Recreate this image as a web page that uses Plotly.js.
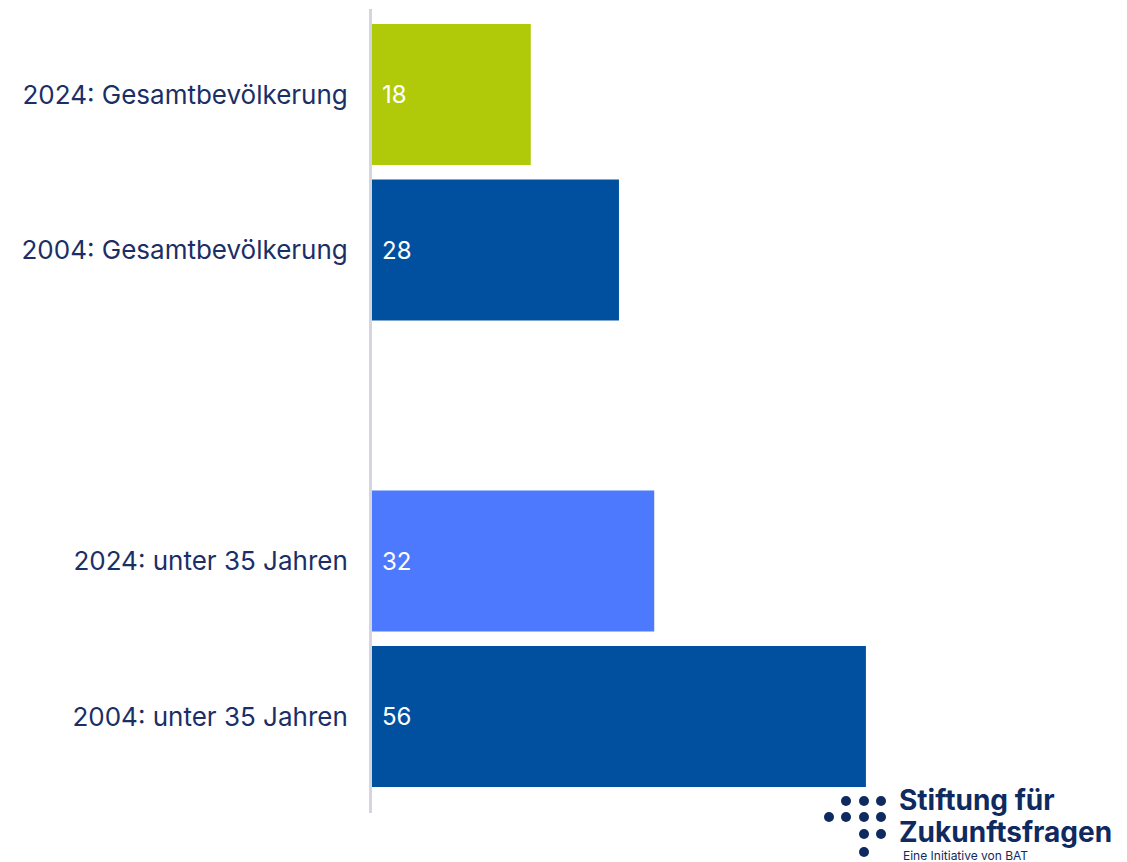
<!DOCTYPE html>
<html>
<head>
<meta charset="utf-8">
<script src="https://cdn.plot.ly/plotly-3.0.1.min.js"></script>
<style>html,body{margin:0;padding:0;background:#fff;}#chart{width:1127px;height:862px;}</style>
</head>
<body>
<div id="chart"></div>
<script>
const categories = ["2024: Gesamtbevölkerung", "2004: Gesamtbevölkerung", "2024: unter 35 Jahren", "2004: unter 35 Jahren"];
const values = [18, 28, 32, 56];
const barColors = ["#b0ca0a", "#00509f", "#4d79ff", "#00509f"];
const slots = [0, 1, 3, 4];

const W = 1127, H = 862, L = 372, R = 0, T = 9, B = 49;
const pw = W - L - R, ph = H - T - B;
const px = x => (x - L) / pw;
const py = y => (H - B - y) / ph;

const trace = {
  type: 'bar',
  orientation: 'h',
  y: slots,
  x: values,
  width: 0.907,
  marker: {color: barColors},
  hoverinfo: 'skip'
};

const annotations = values.map((v, i) => ({
  x: 0, y: slots[i], xref: 'x', yref: 'y',
  text: String(v), showarrow: false,
  xanchor: 'left', yanchor: 'middle', xshift: 8,
  font: {family: 'Inter, sans-serif', size: 24, color: '#ffffff'}
}));

// logo
const navy = '#0f2a5f';
annotations.push({
  xref: 'paper', yref: 'paper', x: px(897), y: py(800), xanchor: 'left', yanchor: 'middle',
  text: '<b>Stiftung für</b>', showarrow: false,
  font: {family: 'Inter, sans-serif', size: 28, color: navy}
});
annotations.push({
  xref: 'paper', yref: 'paper', x: px(897), y: py(832), xanchor: 'left', yanchor: 'middle',
  text: '<b>Zukunftsfragen</b>', showarrow: false,
  font: {family: 'Inter, sans-serif', size: 28, color: navy}
});
annotations.push({
  xref: 'paper', yref: 'paper', x: px(901), y: py(855), xanchor: 'left', yanchor: 'middle',
  text: 'Eine Initiative von BAT', showarrow: false,
  font: {family: 'Inter, sans-serif', size: 12, color: navy}
});

const dots = [[846,801],[864,801],[881,801],[829,817],[846,817],[864,817],[881,817],[864,834],[881,834],[864,852]];
const shapes = dots.map(d => ({
  type: 'circle', xref: 'paper', yref: 'paper',
  xsizemode: 'pixel', ysizemode: 'pixel',
  xanchor: px(d[0]), yanchor: py(d[1]),
  x0: -5, x1: 5, y0: -5, y1: 5,
  fillcolor: navy, line: {width: 0}
}));

const layout = {
  width: W, height: H,
  margin: {l: L, r: R, t: T, b: B},
  paper_bgcolor: '#ffffff', plot_bgcolor: '#ffffff',
  showlegend: false,
  xaxis: {range: [0, pw / 8.82], showgrid: false, zeroline: false, showticklabels: false, showline: false, fixedrange: true},
  yaxis: {
    range: [4.62, -0.55], tickvals: slots, ticktext: categories,
    showgrid: false, zeroline: false, showline: true, linecolor: '#d3d6e0', linewidth: 3,
    ticks: '', ticklabelstandoff: 16,
    tickfont: {family: 'Inter, sans-serif', size: 26, color: '#1b2f66'},
    fixedrange: true
  },
  annotations: annotations,
  shapes: shapes
};

Plotly.newPlot('chart', [trace], layout, {displayModeBar: false, staticPlot: true});
</script>
</body>
</html>
